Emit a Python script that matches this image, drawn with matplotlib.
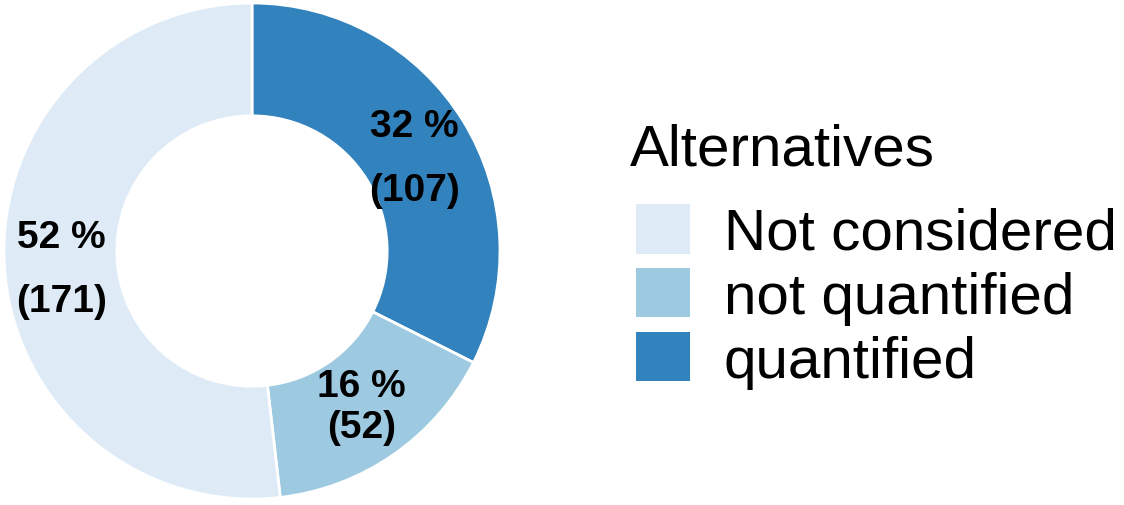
import matplotlib
matplotlib.use("Agg")
import matplotlib.pyplot as plt
from matplotlib.patches import Patch
import numpy as np

plt.rcParams['font.family'] = ['Liberation Sans', 'DejaVu Sans']

# data
categories = ['quantified', 'not quantified', 'Not considered']
counts = [107, 52, 171]
colors = ['#3182bd', '#9ecae1', '#deebf7']
legend_order = ['Not considered', 'not quantified', 'quantified']

total = sum(counts)

fig = plt.figure(figsize=(11.24, 5.06), dpi=100)
ax = fig.add_axes([4 / 1124, 6 / 506, 496 / 1124, 496 / 506])

wedges, _ = ax.pie(counts, colors=colors, startangle=90, counterclock=False,
                   radius=1.0,
                   wedgeprops=dict(width=0.455, edgecolor='white', linewidth=2))

# labels in middle of ring (small label sits tighter)
r_lab = 0.77
spacing = {'quantified': 2.0, 'not quantified': 1.2, 'Not considered': 2.0}
dy = {'quantified': -0.03, 'not quantified': 0.005, 'Not considered': -0.03}
for w, c, n in zip(wedges, counts, categories):
    ang = np.deg2rad((w.theta1 + w.theta2) / 2)
    x, y = r_lab * np.cos(ang), r_lab * np.sin(ang) + dy[n]
    ax.text(x, y, f"{round(100 * c / total)} %\n({c})", ha='center', va='center',
            fontsize=28, fontweight='bold', linespacing=spacing[n])

ax.set_xlim(-1, 1)
ax.set_ylim(-1, 1)
ax.set_aspect('equal')
ax.axis('off')

# legend title
fig.text(630 / 1124, 1 - 165 / 506, 'Alternatives', fontsize=42, ha='left', va='baseline')

handles = [Patch(facecolor=colors[categories.index(n)], edgecolor='none') for n in legend_order]
leg = fig.legend(handles, legend_order, loc='upper left',
                 bbox_to_anchor=(636 / 1124, 1 - 205 / 506), frameon=False,
                 fontsize=42, handlelength=0.93, handleheight=0.93,
                 handletextpad=0.57, labelspacing=0.12, borderaxespad=0, borderpad=0)

fig.savefig('out.png', dpi=100)
